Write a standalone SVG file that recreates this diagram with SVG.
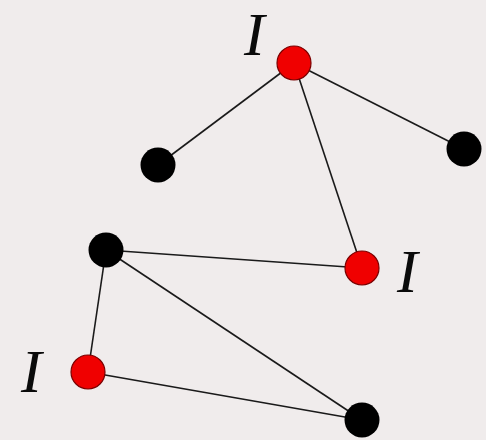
<svg xmlns="http://www.w3.org/2000/svg" width="486" height="440" viewBox="0 0 486 440">
<style>
.edge{stroke:#1a1a1a;stroke-width:1.6;fill:none}
.red{fill:#f00000;stroke:#7a0000;stroke-width:1.2}
.blk{fill:#000}
.lbl{font-family:"Liberation Serif",serif;font-style:italic;font-size:62px;fill:#0a0a0a}
</style>
<rect width="486" height="440" fill="#f0ecec"/>
<g id="connectors">
<line class="edge" x1="294" y1="63" x2="158" y2="165"/>
<line class="edge" x1="294" y1="63" x2="464" y2="149"/>
<line class="edge" x1="294" y1="63" x2="362" y2="268"/>
<line class="edge" x1="106" y1="250" x2="362" y2="268"/>
<line class="edge" x1="106" y1="250" x2="88" y2="372"/>
<line class="edge" x1="106" y1="250" x2="362" y2="420"/>
<line class="edge" x1="88" y1="372" x2="362" y2="420"/>
</g>
<g id="n1"><circle class="red" cx="294" cy="63" r="17"/><text class="lbl" x="244" y="55">I</text></g>
<g id="n2"><circle class="blk" cx="158" cy="165" r="17.5"/></g>
<g id="n3"><circle class="blk" cx="464" cy="149" r="17.5"/></g>
<g id="n4"><circle class="red" cx="362" cy="268" r="17"/><text class="lbl" x="397" y="292">I</text></g>
<g id="n5"><circle class="blk" cx="106" cy="250" r="17.5"/></g>
<g id="n6"><circle class="red" cx="88" cy="372" r="17"/><text class="lbl" x="21" y="392">I</text></g>
<g id="n7"><circle class="blk" cx="362" cy="420" r="17.5"/></g>
</svg>
